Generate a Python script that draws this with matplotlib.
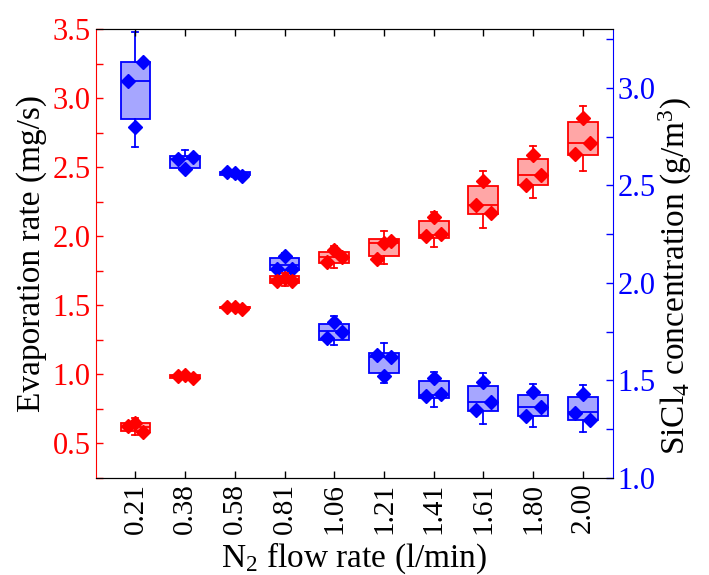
import numpy as np
import matplotlib.pyplot as plt
from matplotlib.ticker import MultipleLocator

plt.rcParams['font.family'] = ['Liberation Serif', 'DejaVu Serif']
plt.rcParams['mathtext.fontset'] = 'custom'
plt.rcParams['mathtext.rm'] = 'Liberation Serif'
plt.rcParams['mathtext.it'] = 'Liberation Serif:italic'

flow = ['0.21', '0.38', '0.58', '0.81', '1.06', '1.21', '1.41', '1.61', '1.80', '2.00']

# evaporation rate (mg/s), three runs per flow rate
evap_pts = [[0.625, 0.649, 0.580], [0.988, 0.995, 0.971], [1.486, 1.486, 1.475],
            [1.676, 1.700, 1.676], [1.812, 1.901, 1.848], [1.836, 1.954, 1.966],
            [2.004, 2.138, 2.017], [2.227, 2.399, 2.171], [2.370, 2.589, 2.444],
            [2.596, 2.859, 2.674]]
evap_q1 = [0.589, 0.975, 1.478, 1.659, 1.809, 1.857, 1.986, 2.162, 2.370, 2.591]
evap_med = [0.620, 0.988, 1.486, 1.690, 1.848, 1.954, 2.007, 2.227, 2.444, 2.676]
evap_q3 = [0.649, 0.992, 1.486, 1.709, 1.888, 1.980, 2.113, 2.364, 2.562, 2.826]
evap_lo = [0.558, 0.968, 1.472, 1.640, 1.773, 1.797, 1.925, 2.058, 2.280, 2.475]
evap_hi = [0.681, 0.998, 1.490, 1.735, 1.930, 2.041, 2.178, 2.473, 2.657, 2.946]

# SiCl4 concentration (g/m3)
conc_pts = [[3.037, 2.801, 3.131], [2.634, 2.583, 2.647], [2.569, 2.562, 2.548],
            [2.070, 2.140, 2.070], [1.717, 1.797, 1.748], [1.628, 1.520, 1.618],
            [1.418, 1.512, 1.430], [1.348, 1.492, 1.387], [1.317, 1.438, 1.362],
            [1.334, 1.430, 1.298]]
conc_q1 = [2.842, 2.589, 2.552, 2.067, 1.708, 1.538, 1.410, 1.345, 1.319, 1.295]
conc_med = [3.037, 2.634, 2.562, 2.090, 1.751, 1.618, 1.423, 1.387, 1.362, 1.336]
conc_q3 = [3.134, 2.652, 2.566, 2.125, 1.789, 1.640, 1.498, 1.469, 1.423, 1.413]
conc_lo = [2.695, 2.578, 2.545, 2.024, 1.679, 1.487, 1.362, 1.278, 1.263, 1.235]
conc_hi = [3.285, 2.683, 2.572, 2.155, 1.828, 1.691, 1.543, 1.536, 1.479, 1.474]

pos = np.arange(1, len(flow) + 1)
jit = np.array([-0.15, 0.0, 0.15])


def draw(ax, q1, med, q3, lo, hi, pts, color, light):
    stats = [dict(q1=a, med=b, q3=c, whislo=d, whishi=e, fliers=[])
             for a, b, c, d, e in zip(q1, med, q3, lo, hi)]
    ax.bxp(stats, positions=pos, widths=0.6, patch_artist=True, showfliers=False,
           boxprops=dict(facecolor=light, edgecolor=color, linewidth=1.3),
           medianprops=dict(color=color, linewidth=1.3),
           whiskerprops=dict(color=color, linewidth=1.3),
           capprops=dict(color=color, linewidth=1.3), capwidths=0.12,
           manage_ticks=False)
    for p, vals in zip(pos, pts):
        ax.plot(p + jit, vals, 'D', color=color, markersize=7.5, linestyle='none', zorder=5)


fig = plt.figure(figsize=(7.09, 5.75), dpi=100)
ax = fig.add_axes([0.135, 0.169, 0.729, 0.780])
ax2 = ax.twinx()
ax.set_zorder(ax2.get_zorder() + 1)
ax.patch.set_visible(False)

draw(ax2, conc_q1, conc_med, conc_q3, conc_lo, conc_hi, conc_pts, 'blue', '#a6a6ff')
draw(ax, evap_q1, evap_med, evap_q3, evap_lo, evap_hi, evap_pts, 'red', '#ffa6a6')

ax.set_xlim(0.2, 10.6)
ax.set_ylim(0.25, 3.5)
ax2.set_ylim(1.0, 3.3)
ax.set_xticks(pos)
ax.set_xticklabels(flow, rotation=90)
ax.yaxis.set_major_locator(MultipleLocator(0.5))
ax.yaxis.set_minor_locator(MultipleLocator(0.25))
ax2.yaxis.set_major_locator(MultipleLocator(0.5))
ax2.yaxis.set_minor_locator(MultipleLocator(0.25))
ax.yaxis.set_major_formatter(plt.FormatStrFormatter('%.1f'))
ax2.yaxis.set_major_formatter(plt.FormatStrFormatter('%.1f'))

ax.tick_params(axis='x', direction='in', top=True, length=5, width=1, labelsize=21)
ax.tick_params(axis='y', which='both', direction='in', color='red', labelcolor='red',
               length=5, width=1, labelsize=22)
ax2.tick_params(axis='y', which='both', direction='in', color='blue', labelcolor='blue',
                length=5, width=1, labelsize=22)

for a in (ax, ax2):
    a.spines['left'].set_color('red')
    a.spines['right'].set_color('blue')
ax2.spines['left'].set_visible(False)
ax.spines['right'].set_visible(False)

ax.set_xlabel(r'N$_\mathregular{2}$ flow rate (l/min)', fontsize=24, labelpad=5)
ax.set_ylabel('Evaporation rate (mg/s)', fontsize=24, labelpad=4)
ax2.set_ylabel(r'SiCl$_\mathregular{4}$ concentration (g/m$^\mathregular{3}$)', fontsize=24)
ax2.yaxis.set_label_coords(1.085, 0.45)

plt.savefig('out.png', dpi=100)
